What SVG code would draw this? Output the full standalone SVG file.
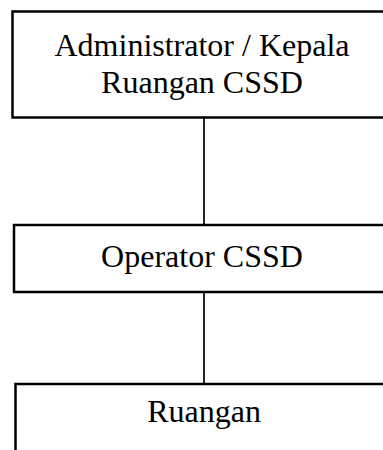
<svg xmlns="http://www.w3.org/2000/svg" width="383" height="450" viewBox="0 0 383 450">
<style>
.box{fill:#fff;stroke:#000;stroke-width:2.5}
.lbl{font-family:"Liberation Serif","Times New Roman",serif;font-size:32px;fill:#000;text-anchor:middle}
.conn{stroke:#000;stroke-width:1.7;fill:none}
</style>
<rect width="383" height="450" fill="#fff"/>
<g id="connectors">
<line class="conn" x1="204" y1="117" x2="204" y2="225"/>
<line class="conn" x1="204" y1="292" x2="204" y2="384"/>
</g>
<g id="admin">
<rect class="box" x="12.5" y="11.5" width="400" height="106"/>
<text class="lbl" x="202" y="56">Administrator / Kepala</text>
<text class="lbl" x="202" y="93">Ruangan CSSD</text>
</g>
<g id="operator">
<rect class="box" x="14" y="225" width="400" height="67"/>
<text class="lbl" x="202" y="267">Operator CSSD</text>
</g>
<g id="ruangan">
<rect class="box" x="15.5" y="384" width="400" height="100"/>
<text class="lbl" x="204" y="422">Ruangan</text>
</g>
</svg>
